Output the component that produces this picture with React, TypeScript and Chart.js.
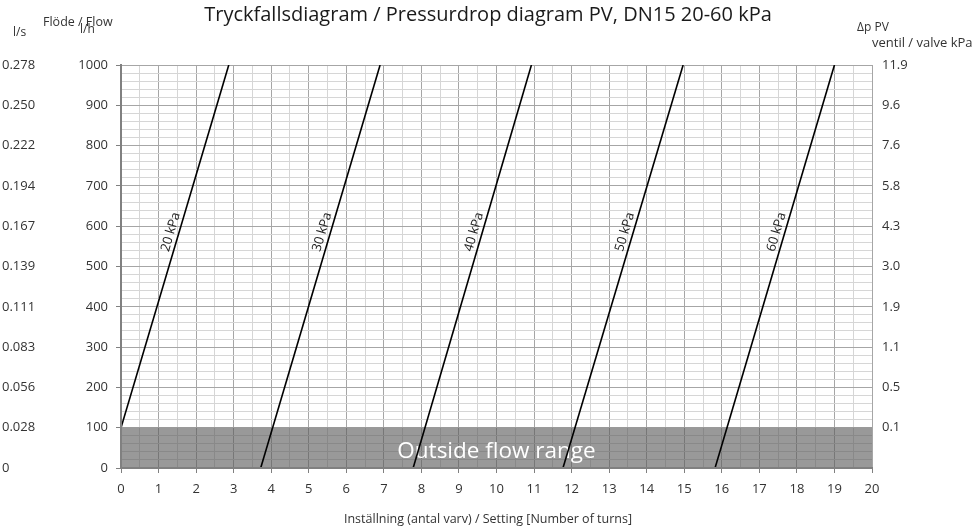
import React, { useEffect, useRef } from 'react';
import { Chart, registerables } from 'chart.js';

Chart.register(...registerables);

// ---- data ----
const pressureLabels = ['20 kPa', '30 kPa', '40 kPa', '50 kPa', '60 kPa'];
const startSetting = [0, 3.72, 7.78, 11.77, 15.82];
const startFlow = [100, 0, 0, 0, 0];
const endSetting = [2.87, 6.9, 10.93, 14.97, 19.0];
const endFlow = [1000, 1000, 1000, 1000, 1000];

const settingRange = [0, 20];
const flowRange = [0, 1000];
const lsLabels = ['0', '0.028', '0.056', '0.083', '0.111', '0.139', '0.167', '0.194', '0.222', '0.250', '0.278'];
const kpaLabels = ['', '0.1', '0.5', '1.1', '1.9', '3.0', '4.3', '5.8', '7.6', '9.6', '11.9'];
const outsideBand = [0, 100];
const bandText = 'Outside flow range';
const labelFlow = 580;

const titleText = 'Tryckfallsdiagram / Pressurdrop diagram PV, DN15 20-60 kPa';
const xTitle = 'Inställning (antal varv) / Setting [Number of turns]';

const FONT = "'Open Sans', 'Noto Sans', sans-serif";
const TICK_COLOR = '#333333';
const MAJOR_GRID = '#a6a6a6';
const MINOR_GRID = '#d6d6d6';
const AXIS_COLOR = '#808080';

const BAND_INDEX = pressureLabels.length;

const textPlugin = {
  id: 'chartTexts',
  afterDatasetDraw(chart: any, args: any) {
    if (args.index !== BAND_INDEX) return;
    const { ctx } = chart;
    const x = chart.scales.x;
    const y = chart.scales.y;
    ctx.save();
    ctx.fillStyle = '#ffffff';
    ctx.font = `22.5px ${FONT}`;
    ctx.textAlign = 'center';
    ctx.textBaseline = 'alphabetic';
    ctx.fillText(bandText, x.getPixelForValue((settingRange[0] + settingRange[1]) / 2), y.getPixelForValue(outsideBand[1] * 0.25));
    ctx.restore();
  },
  afterDatasetsDraw(chart: any) {
    const { ctx } = chart;
    const x = chart.scales.x;
    const y = chart.scales.y;
    ctx.save();
    ctx.fillStyle = '#222222';
    ctx.font = `13px ${FONT}`;
    ctx.textAlign = 'center';
    ctx.textBaseline = 'middle';
    pressureLabels.forEach((lab, i) => {
      const t = (labelFlow - startFlow[i]) / (endFlow[i] - startFlow[i]);
      const s = startSetting[i] + t * (endSetting[i] - startSetting[i]);
      const px = x.getPixelForValue(s);
      const py = y.getPixelForValue(labelFlow);
      const x0 = x.getPixelForValue(startSetting[i]);
      const y0 = y.getPixelForValue(startFlow[i]);
      const x1 = x.getPixelForValue(endSetting[i]);
      const y1 = y.getPixelForValue(endFlow[i]);
      const ang = Math.atan2(y1 - y0, x1 - x0);
      ctx.save();
      ctx.translate(px, py);
      ctx.rotate(ang);
      ctx.fillText(lab, 0, -8);
      ctx.restore();
    });
    ctx.restore();
  },
  afterDraw(chart: any) {
    const { ctx } = chart;
    ctx.save();
    ctx.fillStyle = '#1a1a1a';
    ctx.textBaseline = 'alphabetic';
    ctx.font = `20px ${FONT}`;
    ctx.textAlign = 'center';
    ctx.fillText(titleText, chart.width / 2, 21);

    ctx.fillStyle = TICK_COLOR;
    ctx.font = `12.5px ${FONT}`;
    ctx.fillText(xTitle, chart.width / 2, 523);

    ctx.textAlign = 'left';
    ctx.fillText('Flöde / Flow', 43, 26);
    ctx.font = `12px ${FONT}`;
    ctx.fillText('l/h', 80, 33);
    ctx.fillText('l/s', 13, 36);
    ctx.fillText('Δp PV', 857, 31);
    ctx.font = `13px ${FONT}`;
    ctx.fillText('ventil / valve kPa', 872, 47);
    ctx.restore();
  },
};

const isMajorFlow = (v: number) => Math.abs(Math.round(v) % 100) === 0;
const isMajorSetting = (v: number) => Math.abs(v - Math.round(v)) < 1e-6;

export default function App() {
  const canvasRef = useRef<HTMLCanvasElement | null>(null);

  useEffect(() => {
    if (!canvasRef.current) return;
    const lineSets = pressureLabels.map((lab, i) => ({
      label: lab,
      data: [
        { x: startSetting[i], y: startFlow[i] },
        { x: endSetting[i], y: endFlow[i] },
      ],
      borderColor: '#000000',
      borderWidth: 1.6,
      pointRadius: 0,
      fill: false,
      order: 0,
    }));
    const band = {
      label: bandText,
      data: [
        { x: settingRange[0], y: outsideBand[1] },
        { x: settingRange[1], y: outsideBand[1] },
      ],
      borderWidth: 0,
      borderColor: 'rgba(0,0,0,0)',
      backgroundColor: 'rgba(90,90,90,0.62)',
      pointRadius: 0,
      fill: 'origin',
      order: 10,
    };

    const chart = new Chart(canvasRef.current, {
      type: 'line',
      data: { datasets: [...lineSets, band] as any },
      options: {
        animation: false,
        responsive: false,
        events: [],
        layout: { padding: { top: 65, left: 2, right: 0, bottom: 0 } },
        plugins: {
          legend: { display: false },
          tooltip: { enabled: false },
          title: { display: false },
        },
        scales: {
          x: {
            type: 'linear',
            position: 'bottom',
            min: settingRange[0],
            max: settingRange[1],
            afterFit: (s: any) => { s.height = 61; },
            ticks: {
              stepSize: 0.5,
              autoSkip: false,
              maxRotation: 0,
              padding: 8,
              color: TICK_COLOR,
              font: { family: FONT, size: 13 },
              callback: (v: any) => (isMajorSetting(Number(v)) ? String(Math.round(Number(v))) : ''),
            },
            grid: {
              color: (c: any) => (isMajorSetting(c.tick.value) ? MAJOR_GRID : MINOR_GRID),
              tickColor: (c: any) => (c.tick && isMajorSetting(c.tick.value) ? AXIS_COLOR : 'rgba(0,0,0,0)'),
              tickLength: 5,
              lineWidth: 1,
            },
            border: { color: AXIS_COLOR, width: 2, z: 1 },
          },
          y: {
            type: 'linear',
            position: 'left',
            weight: 0,
            min: flowRange[0],
            max: flowRange[1],
            afterFit: (s: any) => { s.width = 61; },
            ticks: {
              stepSize: 20,
              autoSkip: false,
              padding: 8,
              color: TICK_COLOR,
              font: { family: FONT, size: 13 },
              callback: (v: any) => (isMajorFlow(Number(v)) ? String(Math.round(Number(v))) : ''),
            },
            grid: {
              color: (c: any) => (isMajorFlow(c.tick.value) ? MAJOR_GRID : MINOR_GRID),
              tickColor: (c: any) => (c.tick && isMajorFlow(c.tick.value) ? AXIS_COLOR : 'rgba(0,0,0,0)'),
              tickLength: 5,
              lineWidth: 1,
            },
            border: { color: AXIS_COLOR, width: 2, z: 1 },
          },
          ys: {
            type: 'linear',
            position: 'left',
            weight: 1,
            min: flowRange[0],
            max: flowRange[1],
            afterFit: (s: any) => { s.width = 58; },
            ticks: {
              stepSize: 100,
              autoSkip: false,
              padding: 0,
              crossAlign: 'far',
              color: TICK_COLOR,
              font: { family: FONT, size: 13 },
              callback: (v: any) => lsLabels[Math.round(Number(v) / 100)] ?? '',
            },
            grid: { display: false, drawTicks: false },
            border: { display: false },
          },
          yr: {
            type: 'linear',
            position: 'right',
            min: flowRange[0],
            max: flowRange[1],
            afterFit: (s: any) => { s.width = 104; },
            ticks: {
              stepSize: 100,
              autoSkip: false,
              padding: 10,
              color: TICK_COLOR,
              font: { family: FONT, size: 13 },
              callback: (v: any) => kpaLabels[Math.round(Number(v) / 100)] ?? '',
            },
            grid: { display: false, drawTicks: false },
            border: { display: false },
          },
        } as any,
      },
      plugins: [textPlugin as any],
    });
    return () => chart.destroy();
  }, []);

  return (
    <div style={{ position: 'fixed', left: 0, top: 0, width: 976, height: 529, background: '#ffffff' }}>
      <canvas ref={canvasRef} width={976} height={529} />
    </div>
  );
}
